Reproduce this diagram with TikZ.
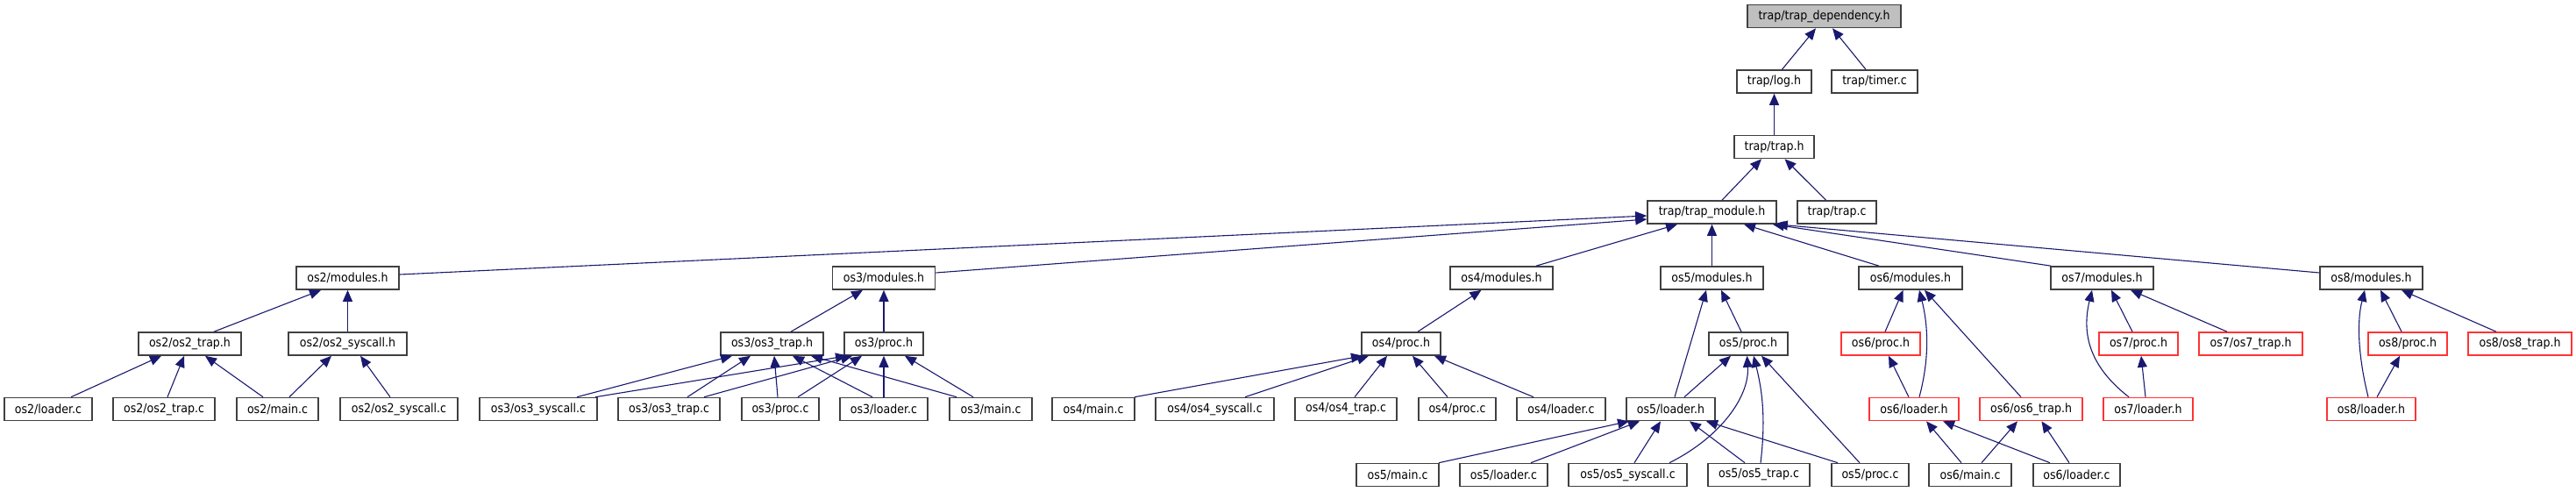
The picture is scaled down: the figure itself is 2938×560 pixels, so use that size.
\documentclass[tikz,border=0pt]{standalone}
\usepackage{fontspec}
\setmainfont{DejaVu Sans}[FakeStretch=0.9]
\usetikzlibrary{arrows.meta}
\definecolor{edgeblue}{HTML}{191970}
\definecolor{boxgray}{HTML}{404040}
\definecolor{boxred}{HTML}{FF3333}
\definecolor{depfill}{HTML}{BFBFBF}
\newcommand\edg[4]{\draw[conn] ([xshift=#2pt]#1.north) -- ([xshift=#4pt]#3.south);}
\begin{document}
\begin{tikzpicture}[x=1pt,y=-1pt,
 box/.style={draw=boxgray,line width=1.6pt,fill=white,minimum height=26pt,inner sep=0pt,font=\fontsize{14pt}{15pt}\selectfont},
 redbox/.style={box,draw=boxred},
 conn/.style={draw=edgeblue,line width=1.1pt,-{Triangle[length=13pt,width=11pt]}}]
\useasboundingbox[fill=white] (0,0) rectangle (2938,560);
% row 0
\node[box,fill=depfill,minimum width=175pt] (dep) at (2080.5,18.5) {trap/trap\_dependency.h};
% row 1
\node[box,minimum width=85pt] (log) at (2023.5,93) {trap/log.h};
\node[box,minimum width=98pt] (timer) at (2138,93) {trap/timer.c};
% row 2
\node[box,minimum width=91pt] (trap) at (2023.5,167.5) {trap/trap.h};
% row 3
\node[box,minimum width=147pt] (tmod) at (1952.5,242) {trap/trap\_module.h};
\node[box,minimum width=90pt] (trapc) at (2095,242) {trap/trap.c};
% row 4
\node[box,minimum width=117pt] (m2) at (396.5,317) {os2/modules.h};
\node[box,minimum width=117pt] (m3) at (1008,317) {os3/modules.h};
\node[box,minimum width=117pt] (m4) at (1712.5,317) {os4/modules.h};
\node[box,minimum width=117pt] (m5) at (1952.5,317) {os5/modules.h};
\node[box,minimum width=118pt] (m6) at (2179,317) {os6/modules.h};
\node[box,minimum width=117pt] (m7) at (2397.5,317) {os7/modules.h};
\node[box,minimum width=117pt] (m8) at (2704.5,317) {os8/modules.h};
% row 5
\node[box,minimum width=117pt] (t2h) at (216.5,392) {os2/os2\_trap.h};
\node[box,minimum width=135pt] (s2h) at (396.5,392) {os2/os2\_syscall.h};
\node[box,minimum width=117pt] (t3h) at (880.5,392) {os3/os3\_trap.h};
\node[box,minimum width=90pt] (p3h) at (1008,392) {os3/proc.h};
\node[box,minimum width=90pt] (p4h) at (1598,392) {os4/proc.h};
\node[box,minimum width=90pt] (p5h) at (1994,392) {os5/proc.h};
\node[redbox,minimum width=90pt] (p6h) at (2145,392) {os6/proc.h};
\node[redbox,minimum width=90pt] (p7h) at (2439,392) {os7/proc.h};
\node[redbox,minimum width=118pt] (t7h) at (2567,392) {os7/os7\_trap.h};
\node[redbox,minimum width=90pt] (p8h) at (2746,392) {os8/proc.h};
\node[redbox,minimum width=118pt] (t8h) at (2874,392) {os8/os8\_trap.h};
% row 6
\node[box,minimum width=100pt] (l2c) at (55,466.5) {os2/loader.c};
\node[box,minimum width=116pt] (t2c) at (187,466.5) {os2/os2\_trap.c};
\node[box,minimum width=93pt] (n2) at (316.5,466.5) {os2/main.c};
\node[box,minimum width=134pt] (s2c) at (455,466.5) {os2/os2\_syscall.c};
\node[box,minimum width=134pt] (s3c) at (614,466.5) {os3/os3\_syscall.c};
\node[box,minimum width=116pt] (t3c) at (763,466.5) {os3/os3\_trap.c};
\node[box,minimum width=88pt] (p3c) at (890,466.5) {os3/proc.c};
\node[box,minimum width=100pt] (l3c) at (1008,466.5) {os3/loader.c};
\node[box,minimum width=94pt] (n3) at (1130,466.5) {os3/main.c};
\node[box,minimum width=94pt] (n4) at (1247,466.5) {os4/main.c};
\node[box,minimum width=135pt] (s4c) at (1385.5,466.5) {os4/os4\_syscall.c};
\node[box,minimum width=116pt] (t4c) at (1535,466.5) {os4/os4\_trap.c};
\node[box,minimum width=88pt] (p4c) at (1662,466.5) {os4/proc.c};
\node[box,minimum width=101pt] (l4c) at (1780.5,466.5) {os4/loader.c};
\node[box,minimum width=101pt] (l5h) at (1905.5,466.5) {os5/loader.h};
\node[redbox,minimum width=102pt] (l6h) at (2183,466.5) {os6/loader.h};
\node[redbox,minimum width=117pt] (t6h) at (2316.5,466.5) {os6/os6\_trap.h};
\node[redbox,minimum width=102pt] (l7h) at (2450,466.5) {os7/loader.h};
\node[redbox,minimum width=101pt] (l8h) at (2704.5,466.5) {os8/loader.h};
% row 7
\node[box,minimum width=94pt] (n5) at (1594,541.5) {os5/main.c};
\node[box,minimum width=100pt] (l5c) at (1715,541.5) {os5/loader.c};
\node[box,minimum width=135pt] (s5c) at (1856.5,541.5) {os5/os5\_syscall.c};
\node[box,minimum width=116pt] (t5c) at (2006,541.5) {os5/os5\_trap.c};
\node[box,minimum width=88pt] (p5c) at (2133,541.5) {os5/proc.c};
\node[box,minimum width=94pt] (n6) at (2247,541.5) {os6/main.c};
\node[box,minimum width=99pt] (l6c) at (2368.5,541.5) {os6/loader.c};
% top edges
\edg{log}{9}{dep}{-9.5}
\edg{timer}{-10}{dep}{9.5}
\edg{trap}{0}{log}{0}
\edg{tmod}{11.5}{trap}{-14.5}
\edg{trapc}{-12.5}{trap}{12}
\draw[conn] ([yshift=4pt]m2.east) -- ([yshift=-4pt]tmod.west);
\draw[conn] ([yshift=6pt]m3.east) -- ([yshift=-8pt]tmod.west);
\edg{m4}{39.5}{tmod}{-39.5}
\edg{m5}{0}{tmod}{0}
\edg{m6}{-36}{tmod}{36.5}
\draw[conn] ([xshift=1pt]m7.north west) -- ([xshift=-5pt]tmod.south east);
\draw[conn] ([yshift=6pt]m8.west) -- ([xshift=-1pt]tmod.south east);
% os2
\edg{t2h}{27.5}{m2}{-30.5}
\edg{s2h}{0}{m2}{0}
\edg{l2c}{26}{t2h}{-32.5}
\edg{t2c}{4}{t2h}{-6.5}
\edg{n2}{-16.5}{t2h}{17.5}
\edg{n2}{13.5}{s2h}{-18.5}
\edg{s2c}{-10}{s2h}{14.5}
% os3
\edg{t3h}{21.5}{m3}{-24}
\edg{p3h}{0}{m3}{0}
\edg{s3c}{44}{t3h}{-45.5}
\edg{t3c}{21}{t3h}{-24.5}
\edg{p3c}{-3}{t3h}{2.5}
\edg{l3c}{-13}{t3h}{23.5}
\edg{n3}{-39}{t3h}{44.5}
\edg{s3c}{65}{p3h}{-42}
\edg{t3c}{40}{p3h}{-36}
\edg{p3c}{20}{p3h}{-25}
\edg{l3c}{0}{p3h}{0}
\edg{n3}{-20}{p3h}{24}
% os4
\edg{p4h}{19}{m4}{-23}
\edg{n4}{47}{p4h}{-44}
\edg{s4c}{34.5}{p4h}{-37}
\edg{t4c}{10}{p4h}{-16}
\edg{p4c}{-11}{p4h}{13}
\edg{l4c}{-31.5}{p4h}{38}
% os5
\edg{l5h}{4.5}{m5}{-6.5}
\edg{p5h}{-8}{m5}{10.5}
\edg{l5h}{15.5}{p5h}{-20}
\draw[conn] ([xshift=47.5pt]s5c.north) .. controls +(60,-30) and +(3,45) .. ([xshift=-1.5pt]p5h.south);
\draw[conn] ([xshift=2pt]t5c.north) .. controls +(6,-50) and +(10,40) .. ([xshift=6pt]p5h.south);
\edg{p5c}{-12}{p5h}{15}
\edg{n5}{47}{l5h}{-47.5}
\edg{l5c}{31}{l5h}{-35.5}
\edg{s5c}{7.5}{l5h}{-11.5}
\edg{t5c}{-16}{l5h}{21.5}
\edg{p5c}{-37}{l5h}{40.5}
% os6
\edg{p6h}{5}{m6}{-8.5}
\draw[conn] ([xshift=6pt]l6h.north) .. controls +(12,-45) and +(10,40) .. ([xshift=10pt]m6.south);
\edg{t6h}{-11.5}{m6}{16}
\edg{l6h}{-6}{p6h}{9}
\edg{n6}{-10}{l6h}{14}
\edg{l6c}{-30.5}{l6h}{33}
\edg{n6}{13}{t6h}{-15.5}
\edg{l6c}{-8.5}{t6h}{12}
% os7
\draw[conn] ([xshift=-22pt]l7h.north) .. controls +(-45,-35) and +(-12,50) .. ([xshift=-11.5pt]m7.south);
\edg{p7h}{-7}{m7}{10.5}
\edg{t7h}{-27}{m7}{32.5}
\edg{l7h}{-3}{p7h}{3}
% os8
\draw[conn] ([xshift=-3.5pt]l8h.north) .. controls +(-10,-40) and +(-10,40) .. ([xshift=-7.5pt]m8.south);
\edg{p8h}{-7}{m8}{10.5}
\edg{t8h}{-27}{m8}{34.5}
\edg{l8h}{6.5}{p8h}{-9}
\end{tikzpicture}
\end{document}
